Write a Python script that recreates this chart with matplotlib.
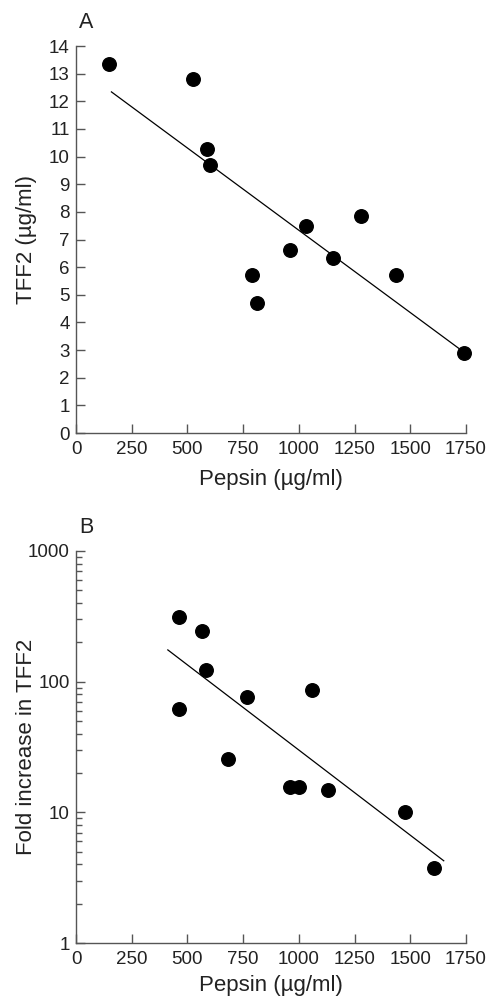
import matplotlib
matplotlib.use("Agg")
import matplotlib.pyplot as plt
from matplotlib.ticker import FixedLocator, LogLocator, NullFormatter, FixedFormatter

plt.rcParams["font.family"] = ["Liberation Sans", "DejaVu Sans"]

# panel A: TFF2 vs pepsin
pepsin_a = [150, 525, 588, 600, 789, 813, 960, 1031, 1151, 1278, 1434, 1740]
tff2_a = [13.36, 12.8, 10.26, 9.71, 5.72, 4.70, 6.61, 7.49, 6.32, 7.84, 5.72, 2.91]
fit_a_x = [159, 1718]
fit_a_y = [12.34, 3.06]

# panel B: fold increase vs pepsin (log)
pepsin_b = [461, 566, 585, 464, 766, 681, 1057, 961, 1001, 1130, 1476, 1608]
fold_b = [311, 245, 122, 62.3, 76, 25.8, 87, 15.5, 15.5, 14.9, 10.1, 3.75]
fit_b_x = [412, 1650]
fit_b_y = [175, 4.26]

x_ticks = [0, 250, 500, 750, 1000, 1250, 1500, 1750]
a_yticks = list(range(0, 15))
b_yticks = [1, 10, 100, 1000]
b_ylabels = ["1", "10", "100", "1000"]

SPINE = "#555555"
INK = "#222222"

fig = plt.figure(figsize=(4.91, 9.98), dpi=100)
ax_a = fig.add_axes([0.1548, 0.5661, 0.7943, 0.3878])
ax_b = fig.add_axes([0.1548, 0.0551, 0.7943, 0.3928])


def style(ax, xlab_y):
    for side in ("top", "right"):
        ax.spines[side].set_visible(False)
    for side in ("left", "bottom"):
        ax.spines[side].set_linewidth(1.0)
        ax.spines[side].set_color(SPINE)
    ax.tick_params(direction="in", length=6.5, width=1.0, labelsize=13.5,
                   color=SPINE, labelcolor=INK)
    ax.tick_params(axis="x", pad=5.5)
    ax.tick_params(axis="y", pad=4.5)
    ax.tick_params(which="minor", direction="in", length=4, width=1.0,
                   color=SPINE)
    ax.set_xlim(0, 1750)
    ax.xaxis.set_major_locator(FixedLocator(x_ticks))
    ax.set_xlabel("Pepsin (\u00b5g/ml)", fontsize=16, color=INK)
    ax.xaxis.set_label_coords(0.5, xlab_y)


style(ax_a, -0.093)
ax_a.scatter(pepsin_a, tff2_a, s=95, color="black", zorder=3, clip_on=False)
ax_a.plot(fit_a_x, fit_a_y, color="black", lw=0.9)
ax_a.set_ylim(0, 14)
ax_a.yaxis.set_major_locator(FixedLocator(a_yticks))
ax_a.set_ylabel("TFF2 (\u00b5g/ml)", fontsize=16, color=INK)
ax_a.yaxis.set_label_coords(-0.10, 0.5)
ax_a.text(0.026, 1.06, "A", transform=ax_a.transAxes, fontsize=15.5,
          ha="center", va="center", color=INK)

style(ax_b, -0.082)
ax_b.scatter(pepsin_b, fold_b, s=95, color="black", zorder=3, clip_on=False)
ax_b.plot(fit_b_x, fit_b_y, color="black", lw=0.9)
ax_b.set_yscale("log")
ax_b.set_ylim(1, 1000)
ax_b.yaxis.set_major_locator(FixedLocator(b_yticks))
ax_b.yaxis.set_major_formatter(FixedFormatter(b_ylabels))
ax_b.yaxis.set_minor_locator(LogLocator(base=10, subs=range(2, 10)))
ax_b.yaxis.set_minor_formatter(NullFormatter())
ax_b.set_ylabel("Fold increase in TFF2", fontsize=16, color=INK)
ax_b.yaxis.set_label_coords(-0.10, 0.5)
ax_b.text(0.026, 1.06, "B", transform=ax_b.transAxes, fontsize=15.5,
          ha="center", va="center", color=INK)

fig.savefig("out.png", dpi=100)
